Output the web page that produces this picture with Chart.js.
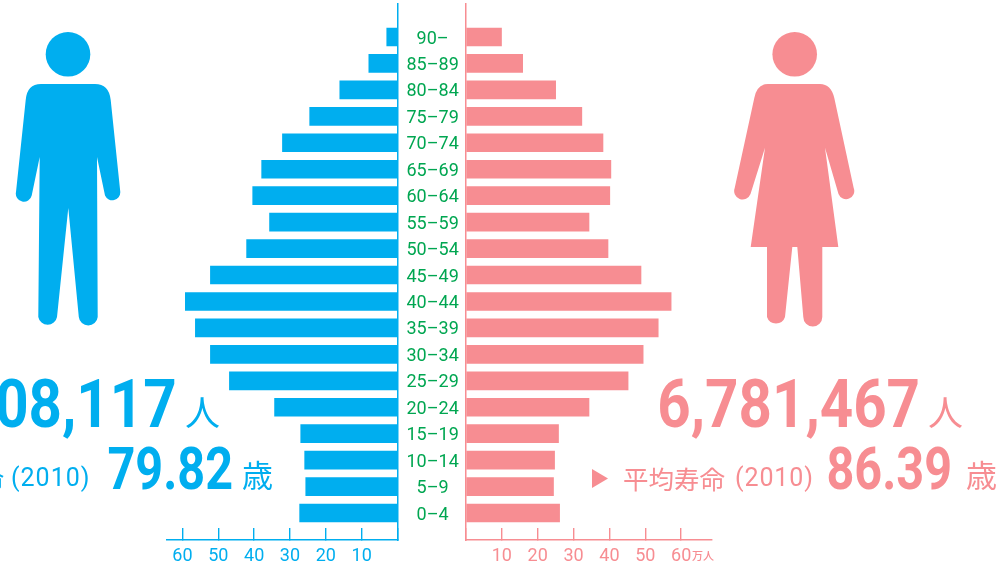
<!DOCTYPE html>
<html lang="ja">
<head>
<meta charset="utf-8">
<script src="https://cdn.jsdelivr.net/npm/chart.js@4/dist/chart.umd.min.js"></script>
<style>
html,body{margin:0;padding:0;background:#fff;width:997px;height:564px;overflow:hidden}
body{position:relative;font-family:Roboto,"Noto Sans CJK JP",sans-serif}
.cv{position:absolute;top:0;height:564px}
.t{position:absolute;white-space:nowrap;line-height:1}
.blue{color:#00AEEF}.pink{color:#F78D92}
.num{font-family:Roboto;font-weight:700}
.cjk{font-family:"Noto Sans CJK JP";font-weight:400}
svg{position:absolute;left:0;top:0}
</style>
</head>
<body>
<svg width="997" height="564" viewBox="0 0 997 564">
  <g fill="#00AEEF">
    <circle cx="68" cy="54.3" r="22.3"/>
    <path d="M41 84H95Q109 84 110.7 100L120.3 192A8 8 0 0 1 105 195.5L97 157L97.7 317A9.5 9.5 0 0 1 78.8 317L68.3 208L57 317A9.5 9.5 0 0 1 38.3 317L39.7 157L31.7 195.5A8 8 0 0 1 16 192L25.7 100Q27 84 41 84Z"/>
  </g>
  <g fill="#F78D92">
    <circle cx="794.7" cy="54.3" r="22.3"/>
    <path d="M768 84H820Q831 84 834.3 98L853.7 188A8 8 0 0 1 838.5 194L825 147.7L838.3 247H822.3V317A9.5 9.5 0 0 1 803.3 317L797.3 247H792.3L785 317A9.5 9.5 0 0 1 767 317V247H750.7L765 147.7L750.5 194A8 8 0 0 1 734.7 188L754.3 98Q757 84 768 84Z"/>
    <path d="M592 469L608 478.5L592 488Z"/>
  </g>
</svg>
<canvas id="male" class="cv" style="left:0;width:466px" width="466" height="564"></canvas>
<canvas id="female" class="cv" style="left:465px;width:260px" width="260" height="564"></canvas>

<div class="t pink num" style="right:77px;top:371px;font-size:67px;transform:scaleX(.87);transform-origin:right">6,781,467</div>
<div class="t pink cjk" style="left:928px;top:393px;font-size:35px">人</div>
<div class="t pink num" style="right:45px;top:439px;font-size:60px;transform:scaleX(.81);transform-origin:right">86.39</div>
<div class="t pink cjk" style="left:966px;top:458px;font-size:31px">歳</div>
<div class="t pink cjk" style="left:623px;top:465px;font-size:25.5px">平均寿命</div>
<div class="t pink" style="left:735px;top:465px;font-size:25px;font-weight:400;letter-spacing:.9px">(2010)</div>
<div class="t pink" style="left:692px;top:550px;font-size:11px;font-family:'Noto Sans CJK JP';font-weight:500">万人</div>

<div class="t blue num" style="right:820px;top:371px;font-size:67px;transform:scaleX(.87);transform-origin:right">08,117</div>
<div class="t blue cjk" style="left:185px;top:393px;font-size:35px">人</div>
<div class="t blue num" style="right:764px;top:439px;font-size:60px;transform:scaleX(.81);transform-origin:right">79.82</div>
<div class="t blue cjk" style="left:242px;top:458px;font-size:31px">歳</div>
<div class="t blue" style="left:11px;top:465px;font-size:25px;font-weight:400;letter-spacing:1px">(2010)</div>
<div class="t blue cjk" style="right:993px;top:465px;font-size:25.5px">命</div>

<script>
const ageGroups = ["90–","85–89","80–84","75–79","70–74","65–69","60–64","55–59","50–54","45–49","40–44","35–39","30–34","25–29","20–24","15–19","10–14","5–9","0–4"];
const maleValues = [3,8,16.1,24.5,32.1,37.9,40.4,35.7,42.1,52.2,59.2,56.4,52.2,46.9,34.3,27,25.9,25.6,27.3];
const femaleValues = [9.9,15.8,25,32.3,38.2,40.4,40.1,34.3,39.6,48.8,57.2,53.6,49.4,45.2,34.3,25.8,24.7,24.4,26.1];
const rowIndexes = ageGroups.map((_, i) => i);

const BLUE = "#00AEEF", PINK = "#F78D92", GREEN = "#00A651";
const Y_MIN = -1.248, Y_MAX = 19.02;

function noPad(s) { s.paddingLeft = s.paddingRight = s.paddingTop = s.paddingBottom = 0; }

function xAxis(color, max, reverse, cb) {
  return {
    type: "linear", min: 0, max, reverse,
    grid: { drawOnChartArea: false, drawTicks: true, tickLength: -12, color, lineWidth: 1.4 },
    border: { color, width: 1.5 },
    ticks: {
      stepSize: 10, includeBounds: false, maxRotation: 0, autoSkip: false,
      color, padding: 18, font: { family: "Roboto", size: 18 },
      callback: cb
    },
    afterFit(s) { s.height = 24; noPad(s); }
  };
}
const hideZero = v => (v === 0 ? "" : String(v));

new Chart(document.getElementById("male"), {
  type: "bar",
  data: {
    datasets: [{
      data: rowIndexes.map(i => ({ x: maleValues[i], y: i })),
      backgroundColor: BLUE, barThickness: 18, borderWidth: 0
    }]
  },
  options: {
    indexAxis: "y", responsive: false, animation: false,
    layout: { padding: { left: 166.7, top: 4, right: 0, bottom: 0 } },
    plugins: { legend: { display: false }, tooltip: { enabled: false } },
    scales: {
      x: xAxis(BLUE, 64.4, true, hideZero),
      y: {
        type: "linear", position: "right", reverse: true, min: Y_MIN, max: Y_MAX, offset: false,
        grid: { display: true, offset: false, drawOnChartArea: false, drawTicks: false },
        border: { color: BLUE, width: 1.5 },
        ticks: {
          stepSize: 1, includeBounds: false, autoSkip: false, color: GREEN,
          crossAlign: "center", padding: 9, labelOffset: 2,
          font: { family: "Roboto", size: 18 },
          callback: v => ageGroups[v] ?? ""
        },
        afterFit(s) { s.width = 68.5; noPad(s); }
      }
    }
  }
});

new Chart(document.getElementById("female"), {
  type: "bar",
  data: {
    datasets: [{
      data: rowIndexes.map(i => ({ x: femaleValues[i], y: i })),
      backgroundColor: PINK, barThickness: 18, borderWidth: 0
    }]
  },
  options: {
    indexAxis: "y", responsive: false, animation: false,
    layout: { padding: { left: 1, top: 4, right: 13, bottom: 0 } },
    plugins: { legend: { display: false }, tooltip: { enabled: false } },
    scales: {
      x: xAxis(PINK, 68.6, false, hideZero),
      y: {
        type: "linear", position: "left", reverse: true, min: Y_MIN, max: Y_MAX, offset: false,
        grid: { display: true, offset: false, drawOnChartArea: false, drawTicks: false },
        border: { color: PINK, width: 1.5 },
        ticks: { display: false, stepSize: 1, includeBounds: false },
        afterFit(s) { s.width = 0; noPad(s); }
      }
    }
  }
});
</script>
</body>
</html>
